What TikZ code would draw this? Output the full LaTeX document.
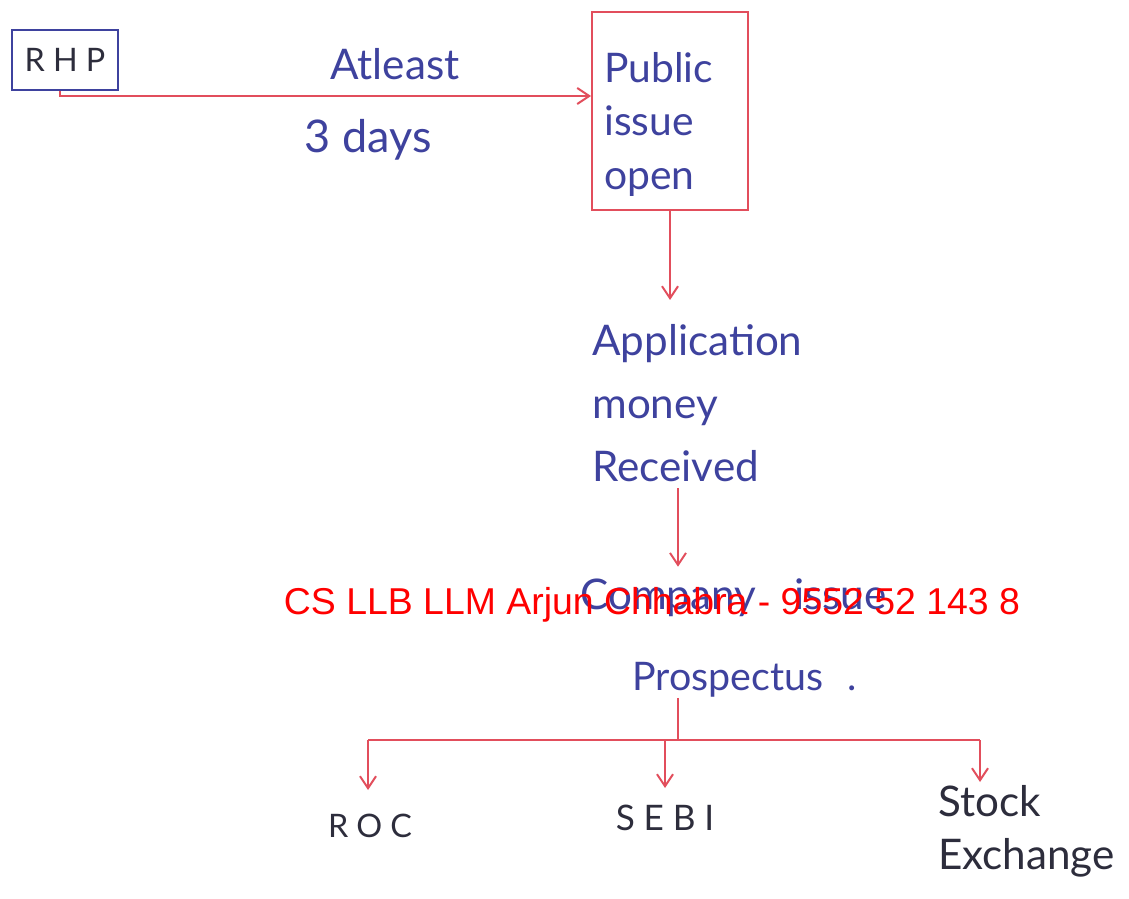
\documentclass[tikz,border=0pt]{standalone}
\usepackage{fontspec}
\setmainfont{Lato}
\newfontfamily\markfont{Liberation Sans}
\definecolor{InkBlue}{RGB}{62,66,158}
\definecolor{InkDark}{RGB}{45,45,60}
\definecolor{PenRed}{RGB}{226,78,92}
\definecolor{MarkRed}{RGB}{255,0,0}
\usetikzlibrary{positioning, arrows.meta, calc}

\begin{document}
\begin{tikzpicture}[x=0.025cm, y=-0.025cm,
    ink/.style={text=InkBlue, font=\fontsize{30}{38}\selectfont, align=left, inner sep=0pt},
    dark/.style={text=InkDark, font=\fontsize{23}{26}\selectfont\addfontfeature{LetterSpace=25}, inner sep=0pt},
    pen/.style={PenRed, line width=1.4pt},
    penarrow/.style={pen, -{Straight Barb[length=3mm, width=4mm]}}]
  \useasboundingbox[fill=white] (0,0) rectangle (1129,899);
  % top row
  \node[dark, draw=InkBlue, line width=1.2pt, minimum width=2.65cm, minimum height=1.5cm] (rhp) at (65,60) {RHP};
  \node[draw=PenRed, line width=1.4pt, minimum width=3.9cm, minimum height=4.95cm] (pub) at (670,111) {};
  \node[ink, anchor=north west, font=\fontsize{29}{38}\selectfont] (pubtext) at (604,52) {Public\\issue\\open};
  \node[ink] (least) at (395,64) {Atleast};
  \node[ink, font=\fontsize{32}{38}\selectfont] (days) at (368,140) {3 days};
  \coordinate (rhpfoot) at (60,96);
  \draw[penarrow] (rhp.south -| rhpfoot) -- (rhpfoot) -- (pub.west |- rhpfoot);
  % middle column
  \node[ink, anchor=north west, font=\fontsize{30}{45}\selectfont] (appl) at (592,324) {Application\\money\\Received};
  \draw[penarrow, shorten >=0.6cm] (pub.south) -- (pub.south |- appl.north);
  \node[ink, anchor=west] (comp) at (580,598) {Company\hspace{0.95cm}issue};
  \node[ink, anchor=west, font=\fontsize{28}{38}\selectfont] (prosp) at (632,680) {Prospectus\hspace{0.6cm}.};
  \draw[penarrow, shorten <=0.15cm, shorten >=0.3cm] (appl.south -| 678,0) -- (comp.north -| 678,0);
  % bottom row
  \node[dark] (roc) at (370,826) {ROC};
  \node[dark, font=\fontsize{25}{26}\selectfont\addfontfeature{LetterSpace=25}] (sebi) at (665,818) {SEBI};
  \node[dark, anchor=north west, align=left, font=\fontsize{30}{38}\selectfont] (stock) at (938,785) {Stock\\Exchange};
  \coordinate (bus) at (678,740);
  \coordinate (busleft) at (368,740);
  \coordinate (busright) at (980,740);
  \draw[pen] (prosp.south -| bus) -- (bus);
  \draw[pen] (busleft) -- (busright);
  \draw[penarrow] (busleft) -- ++(0,50);
  \draw[penarrow] (sebi |- bus) -- ++(0,48);
  \draw[penarrow] (busright) -- ++(0,42);
  % watermark
  \node[text=MarkRed, font=\markfont\fontsize{26.6}{30}\selectfont, inner sep=0pt] (mark) at (652,605) {CS LLB LLM Arjun Chhabra - 9552 52 143 8};
\end{tikzpicture}
\end{document}
